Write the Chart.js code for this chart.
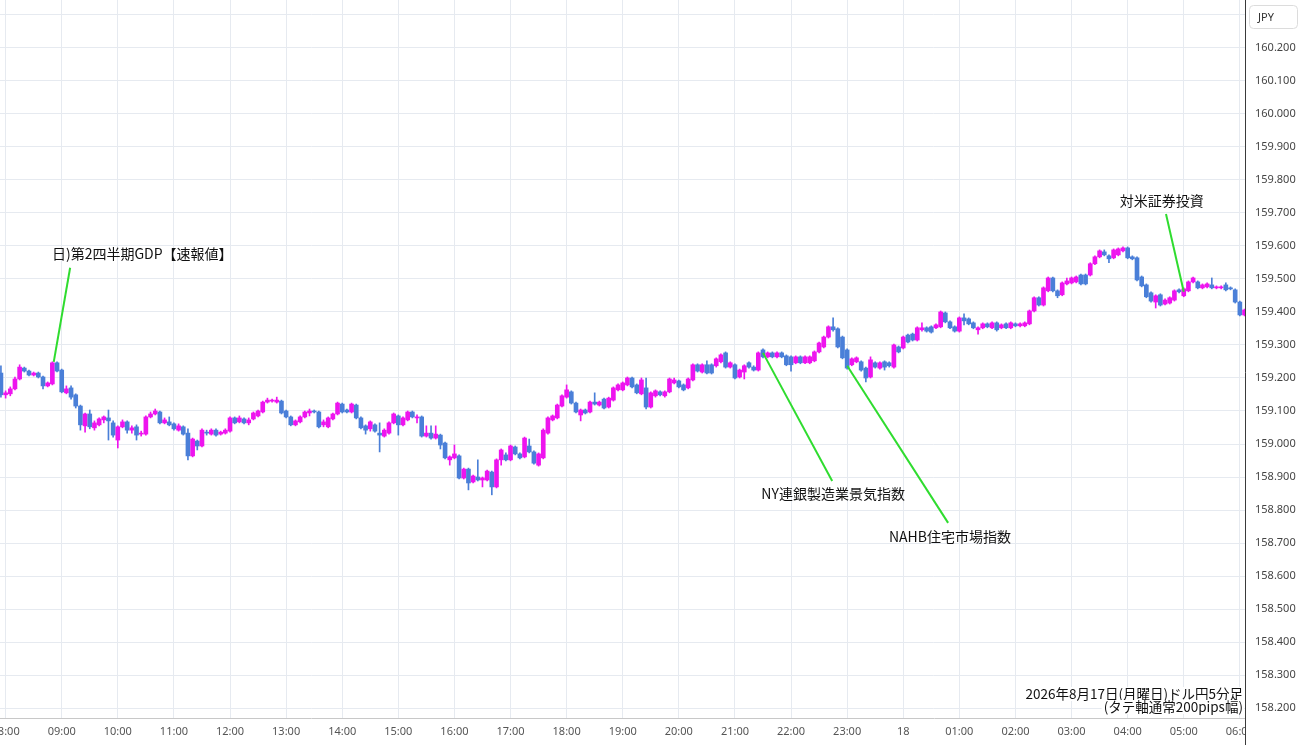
<!DOCTYPE html>
<html>
<head>
<meta charset="utf-8">
<script src="https://cdn.jsdelivr.net/npm/chart.js@4.4.1/dist/chart.umd.min.js"></script>
<style>
  html, body { margin: 0; padding: 0; background: #fff; overflow: hidden; }
  #wrap { position: relative; width: 1300px; height: 745px; }
</style>
</head>
<body>
<div id="wrap"><canvas id="c"></canvas></div>
<script>
// USD/JPY 5 minute candles, 07:55 -> 06:05 (one row = one hour, 12 candles)
const opens = [
  159.215,159.149,159.152,159.167,159.197,159.230,159.221,159.209,159.215,159.203,159.176,159.182,
  159.246,159.224,159.155,159.170,159.149,159.115,159.055,159.091,159.049,159.058,159.073,159.079,
  159.064,159.012,159.052,159.067,159.042,159.052,159.030,159.030,159.082,159.091,159.097,159.064,
  159.067,159.061,159.042,159.052,159.033,158.964,159.009,158.994,159.036,159.030,159.042,159.030,
  159.033,159.039,159.079,159.067,159.076,159.064,159.076,159.085,159.097,159.127,159.130,159.127,
  159.130,159.100,159.082,159.058,159.067,159.082,159.094,159.100,159.097,159.058,159.052,159.076,
  159.091,159.121,159.103,159.097,159.118,159.079,159.055,159.046,159.058,159.033,159.024,159.033,
  159.064,159.085,159.058,159.073,159.097,159.079,159.082,159.024,159.033,159.018,159.027,159.003,
  158.952,158.958,158.964,158.897,158.924,158.885,158.900,158.891,158.891,158.915,158.870,158.952,
  158.967,158.952,158.991,158.970,158.961,158.994,158.976,158.936,158.958,159.033,159.073,159.079,
  159.115,159.142,159.158,159.124,159.088,159.103,159.097,159.127,159.118,159.136,159.112,159.133,
  159.164,159.164,159.179,159.200,159.179,159.152,159.170,159.112,159.146,159.158,159.146,159.158,
  159.185,159.191,159.179,159.170,159.194,159.240,159.218,159.240,159.240,159.237,159.249,159.276,
  159.233,159.240,159.203,159.218,159.246,159.233,159.224,159.285,159.264,159.276,159.264,159.276,
  159.267,159.264,159.246,159.264,159.246,159.246,159.252,159.279,159.294,159.324,159.355,159.349,
  159.324,159.285,159.240,159.249,159.249,159.230,159.203,159.246,159.230,159.249,159.246,159.233,
  159.294,159.291,159.330,159.333,159.315,159.346,159.352,159.355,159.352,159.355,159.397,159.370,
  159.355,159.342,159.382,159.379,159.367,159.346,159.352,159.364,159.352,159.367,159.352,159.364,
  159.352,159.364,159.358,159.358,159.364,159.403,159.443,159.421,159.464,159.503,159.464,159.452,
  159.485,159.488,159.491,159.512,159.512,159.512,159.546,159.567,159.582,159.570,159.564,159.573,
  159.585,159.594,159.567,159.564,159.506,159.482,159.458,159.430,159.452,159.424,159.427,159.436,
  159.467,159.449,159.464,159.491,159.491,159.473,159.476,159.482,159.473,159.473,159.482,159.473,
  159.467,159.430,159.391
];
const highs = [
  159.237,159.161,159.173,159.203,159.240,159.233,159.224,159.218,159.218,159.206,159.188,159.249,
  159.249,159.227,159.176,159.176,159.152,159.118,159.094,159.103,159.070,159.079,159.085,159.103,
  159.070,159.055,159.073,159.070,159.055,159.058,159.039,159.085,159.097,159.106,159.100,159.079,
  159.082,159.064,159.061,159.055,159.046,159.018,159.012,159.046,159.042,159.046,159.046,159.039,
  159.046,159.082,159.082,159.085,159.079,159.079,159.097,159.103,159.130,159.139,159.136,159.142,
  159.133,159.103,159.085,159.073,159.085,159.100,159.106,159.103,159.100,159.073,159.082,159.094,
  159.127,159.124,159.106,159.124,159.121,159.082,159.058,159.070,159.061,159.064,159.046,159.067,
  159.094,159.088,159.082,159.100,159.100,159.088,159.085,159.055,159.055,159.055,159.030,159.006,
  158.964,158.997,158.967,158.927,158.927,158.906,158.952,158.900,158.921,158.918,158.955,158.985,
  158.973,158.997,158.994,158.973,159.021,159.015,158.979,158.973,159.046,159.082,159.088,159.121,
  159.149,159.179,159.161,159.127,159.106,159.106,159.130,159.155,159.130,159.139,159.142,159.173,
  159.182,159.188,159.203,159.203,159.182,159.200,159.200,159.158,159.164,159.161,159.161,159.200,
  159.200,159.194,159.182,159.200,159.243,159.243,159.243,159.252,159.243,159.261,159.273,159.279,
  159.249,159.243,159.227,159.240,159.249,159.237,159.279,159.288,159.279,159.279,159.279,159.279,
  159.270,159.267,159.267,159.267,159.267,159.267,159.282,159.309,159.327,159.358,159.382,159.352,
  159.327,159.288,159.261,159.264,159.252,159.233,159.264,159.249,159.249,159.252,159.249,159.303,
  159.297,159.327,159.333,159.336,159.355,159.367,159.355,159.358,159.364,159.403,159.400,159.373,
  159.358,159.385,159.394,159.382,159.370,159.355,159.367,159.367,159.370,159.370,159.364,159.367,
  159.370,159.367,159.367,159.370,159.406,159.446,159.446,159.476,159.506,159.506,159.467,159.491,
  159.503,159.506,159.509,159.515,159.515,159.549,159.570,159.588,159.588,159.573,159.591,159.594,
  159.597,159.597,159.570,159.567,159.509,159.485,159.461,159.452,159.455,159.440,159.446,159.467,
  159.470,159.473,159.494,159.506,159.494,159.485,159.488,159.503,159.479,159.479,159.488,159.476,
  159.470,159.433,159.409
];
const lows = [
  159.142,159.139,159.146,159.164,159.194,159.218,159.206,159.206,159.200,159.167,159.173,159.179,
  159.218,159.155,159.152,159.136,159.109,159.042,159.036,159.046,159.042,159.055,159.064,159.012,
  159.021,158.988,159.049,159.033,159.033,159.012,159.024,159.027,159.079,159.088,159.061,159.061,
  159.055,159.042,159.039,159.027,158.952,158.961,158.982,158.991,159.027,159.027,159.024,159.027,
  159.030,159.036,159.061,159.064,159.061,159.058,159.073,159.082,159.094,159.124,159.127,159.124,
  159.091,159.079,159.055,159.055,159.064,159.079,159.085,159.094,159.049,159.052,159.049,159.073,
  159.088,159.094,159.094,159.094,159.076,159.046,159.030,159.039,159.036,158.976,159.021,159.030,
  159.061,159.027,159.055,159.070,159.079,159.064,159.021,159.021,159.015,159.015,158.985,158.955,
  158.936,158.955,158.894,158.894,158.861,158.882,158.888,158.870,158.888,158.846,158.867,158.936,
  158.949,158.949,158.967,158.955,158.958,158.973,158.939,158.933,158.955,159.030,159.070,159.076,
  159.112,159.139,159.121,159.094,159.070,159.091,159.094,159.118,159.115,159.106,159.109,159.130,
  159.161,159.161,159.176,159.170,159.152,159.149,159.106,159.109,159.142,159.146,159.142,159.155,
  159.182,159.170,159.161,159.167,159.191,159.218,159.215,159.212,159.212,159.233,159.246,159.230,
  159.230,159.197,159.200,159.197,159.230,159.221,159.221,159.261,159.261,159.261,159.261,159.261,
  159.237,159.221,159.243,159.243,159.243,159.243,159.249,159.276,159.291,159.321,159.342,159.291,
  159.258,159.227,159.237,159.246,159.221,159.188,159.200,159.230,159.227,159.224,159.233,159.230,
  159.276,159.288,159.306,159.312,159.312,159.342,159.339,159.336,159.349,159.352,159.367,159.349,
  159.339,159.339,159.361,159.361,159.349,159.333,159.349,159.352,159.349,159.342,159.349,159.349,
  159.349,159.355,159.355,159.355,159.361,159.400,159.418,159.418,159.461,159.461,159.443,159.449,
  159.482,159.485,159.488,159.482,159.482,159.509,159.543,159.564,159.570,159.549,159.561,159.570,
  159.582,159.561,159.558,159.494,159.476,159.443,159.430,159.412,159.418,159.421,159.424,159.433,
  159.458,159.446,159.461,159.488,159.470,159.470,159.473,159.470,159.470,159.470,159.464,159.467,
  159.427,159.388,159.388
];
const closes = [
  159.149,159.155,159.167,159.197,159.233,159.221,159.209,159.215,159.203,159.176,159.185,159.246,
  159.221,159.158,159.167,159.142,159.115,159.058,159.091,159.052,159.064,159.076,159.082,159.070,
  159.027,159.052,159.067,159.042,159.049,159.027,159.033,159.082,159.091,159.100,159.064,159.073,
  159.058,159.046,159.055,159.030,158.964,159.015,158.994,159.042,159.033,159.042,159.027,159.036,
  159.042,159.079,159.064,159.079,159.064,159.073,159.094,159.100,159.127,159.133,159.133,159.133,
  159.094,159.082,159.058,159.070,159.082,159.097,159.100,159.097,159.052,159.067,159.079,159.091,
  159.124,159.097,159.097,159.121,159.079,159.049,159.042,159.067,159.039,159.027,159.042,159.064,
  159.091,159.058,159.079,159.097,159.082,159.082,159.024,159.033,159.018,159.030,158.997,158.958,
  158.961,158.970,158.897,158.924,158.882,158.903,158.891,158.897,158.918,158.870,158.952,158.982,
  158.952,158.994,158.970,158.958,159.018,158.976,158.942,158.970,159.042,159.079,159.085,159.118,
  159.146,159.164,159.124,159.097,159.103,159.094,159.127,159.121,159.127,159.109,159.139,159.170,
  159.179,159.185,159.200,159.173,159.155,159.194,159.112,159.155,159.161,159.149,159.158,159.197,
  159.194,159.173,159.164,159.197,159.240,159.221,159.240,159.215,159.215,159.258,159.270,159.233,
  159.246,159.200,159.224,159.237,159.233,159.224,159.276,159.264,159.276,159.264,159.276,159.264,
  159.240,159.240,159.264,159.246,159.264,159.264,159.279,159.306,159.324,159.355,159.346,159.294,
  159.261,159.230,159.258,159.261,159.224,159.200,159.255,159.233,159.246,159.233,159.237,159.300,
  159.279,159.324,159.309,159.315,159.352,159.352,159.342,159.339,159.361,159.400,159.370,159.352,
  159.342,159.382,159.373,159.364,159.352,159.352,159.364,159.355,159.367,159.346,159.361,159.352,
  159.367,159.358,159.364,159.367,159.403,159.443,159.421,159.473,159.503,159.464,159.449,159.488,
  159.494,159.503,159.506,159.485,159.485,159.546,159.567,159.585,159.573,159.561,159.588,159.591,
  159.594,159.564,159.561,159.497,159.479,159.446,159.433,159.449,159.421,159.436,159.443,159.464,
  159.461,159.470,159.491,159.503,159.473,159.482,159.485,159.473,159.476,159.476,159.467,159.470,
  159.430,159.391,159.406
];

// x ticks: one per hour, first one is the 08:00 candle (index 1)
const hourLabels = ['08:00','09:00','10:00','11:00','12:00','13:00','14:00','15:00','16:00','17:00',
  '18:00','19:00','20:00','21:00','22:00','23:00','18','01:00','02:00','03:00','04:00','05:00','06:00'];
const priceTicks = [158.2,158.3,158.4,158.5,158.6,158.7,158.8,158.9,159.0,159.1,159.2,
  159.3,159.4,159.5,159.6,159.7,159.8,159.9,160.0,160.1,160.2,160.3];

// event notes: candle index / price where the green line points, the line's other end, and where the text sits
const eventNames = ['日)第2四半期GDP【速報値】', 'NY連銀製造業景気指数', 'NAHB住宅市場指数', '対米証券投資'];
const eventIdx = [11.3, 163, 181, 253];
const eventPrice = [159.249, 159.276, 159.237, 159.461];
const eventLineIdx = [14.8, 177.8, 202.6, 249.2];
const eventLinePrice = [159.534, 158.888, 158.761, 159.697];
const eventTextIdx = [10.9, 178, 203, 248.3];
const eventTextPrice = [159.576, 158.849, 158.718, 159.736];
const eventAlign = ['left', 'center', 'center', 'center'];

const captionLines = ['2026年8月17日(月曜日)ドル円5分足', '(タテ軸通常200pips幅)'];

const UP = '#ee14ee';
const DOWN = '#4a7fd8';
const GRID = '#e6eaf0';
const CJK = '"Noto Sans CJK JP", "Noto Sans", sans-serif';
const AXISFONT = '"Noto Sans", "Liberation Sans", sans-serif';

const candleColors = closes.map((c, i) => c >= opens[i] ? UP : DOWN);
const wickData = highs.map((h, i) => ({ x: i, y: [lows[i], h] }));
const bodyData = opens.map((o, i) => ({ x: i, y: [o, closes[i]] }));

const overlay = {
  id: 'overlay',
  afterDatasetsDraw(chart) {
    const ctx = chart.ctx, xs = chart.scales.x, ys = chart.scales.y;
    ctx.save();
    ctx.strokeStyle = '#2fdc2f';
    ctx.lineWidth = 2;
    for (let k = 0; k < eventNames.length; k++) {
      ctx.beginPath();
      ctx.moveTo(xs.getPixelForValue(eventIdx[k]), ys.getPixelForValue(eventPrice[k]));
      ctx.lineTo(xs.getPixelForValue(eventLineIdx[k]), ys.getPixelForValue(eventLinePrice[k]));
      ctx.stroke();
    }
    ctx.fillStyle = '#111';
    ctx.font = '14px ' + CJK;
    ctx.textBaseline = 'middle';
    for (let k = 0; k < eventNames.length; k++) {
      ctx.textAlign = eventAlign[k];
      ctx.fillText(eventNames[k], xs.getPixelForValue(eventTextIdx[k]), ys.getPixelForValue(eventTextPrice[k]));
    }
    ctx.restore();
  },
  afterDraw(chart) {
    const ctx = chart.ctx, a = chart.chartArea;
    ctx.save();
    // hide the part of the last time label that runs under the price axis
    ctx.fillStyle = '#fff';
    ctx.fillRect(a.right + 1, a.bottom + 1, chart.width - a.right, chart.height - a.bottom);

    // caption, bottom right of the plot
    ctx.font = '13.5px ' + CJK;
    ctx.textAlign = 'right';
    ctx.textBaseline = 'middle';
    const rx = a.right - 2;
    const ly = [a.bottom - 24, a.bottom - 11];
    captionLines.forEach((t, k) => {
      const w = ctx.measureText(t).width;
      ctx.fillStyle = '#fff';
      ctx.fillRect(rx - w - 2, ly[k] - 7, w + 3, 14);
      ctx.fillStyle = '#111';
      ctx.fillText(t, rx, ly[k]);
    });

    // price axis line, full height
    ctx.strokeStyle = '#3a3a3a';
    ctx.lineWidth = 1;
    ctx.beginPath();
    ctx.moveTo(a.right + 0.5, 0);
    ctx.lineTo(a.right + 0.5, chart.height);
    ctx.stroke();

    // currency box
    const bx = a.right + 4, by = 5, bw = 48, bh = 23;
    ctx.fillStyle = '#fff';
    ctx.strokeStyle = '#dcdcdc';
    ctx.beginPath();
    ctx.roundRect(bx + 0.5, by + 0.5, bw, bh, 4);
    ctx.fill();
    ctx.stroke();
    ctx.fillStyle = '#333';
    ctx.font = '11px ' + AXISFONT;
    ctx.textAlign = 'left';
    ctx.fillText('JPY', bx + 9, by + bh / 2 + 1);
    ctx.restore();
  }
};

new Chart(document.getElementById('c'), {
  type: 'bar',
  data: {
    datasets: [
      {
        label: 'wick',
        data: wickData,
        backgroundColor: candleColors,
        barThickness: 1,
        borderWidth: 0,
        grouped: false,
        order: 2
      },
      {
        label: 'body',
        data: bodyData,
        backgroundColor: candleColors,
        barThickness: 4,
        minBarLength: 1,
        borderWidth: 0,
        grouped: false,
        order: 1
      }
    ]
  },
  options: {
    responsive: true,
    maintainAspectRatio: false,
    animation: false,
    layout: { padding: 0 },
    plugins: { legend: { display: false }, tooltip: { enabled: false } },
    scales: {
      x: {
        type: 'linear',
        min: -0.2,
        max: 266.1,
        offset: false,
        afterBuildTicks: s => { s.ticks = hourLabels.map((l, k) => ({ value: 1 + 12 * k })); },
        afterFit: s => { s.height = 27; s.paddingLeft = 0; s.paddingRight = 0; },
        ticks: {
          autoSkip: false,
          maxRotation: 0,
          padding: 7,
          color: '#555',
          font: { family: AXISFONT, size: 11 },
          callback: v => hourLabels[Math.round((v - 1) / 12)]
        },
        grid: { color: GRID, drawTicks: false, offset: false },
        border: { color: '#c8c8c8' }
      },
      y: {
        position: 'right',
        min: 158.17,
        max: 160.345,
        afterBuildTicks: s => { s.ticks = priceTicks.map(v => ({ value: v })); },
        afterFit: s => { s.width = 55; s.paddingTop = 0; s.paddingBottom = 0; },
        ticks: {
          padding: 10,
          color: '#444',
          font: { family: AXISFONT, size: 11 },
          callback: v => v.toFixed(3)
        },
        grid: { color: GRID, drawTicks: false },
        border: { display: false }
      }
    }
  },
  plugins: [overlay]
});
</script>
</body>
</html>
